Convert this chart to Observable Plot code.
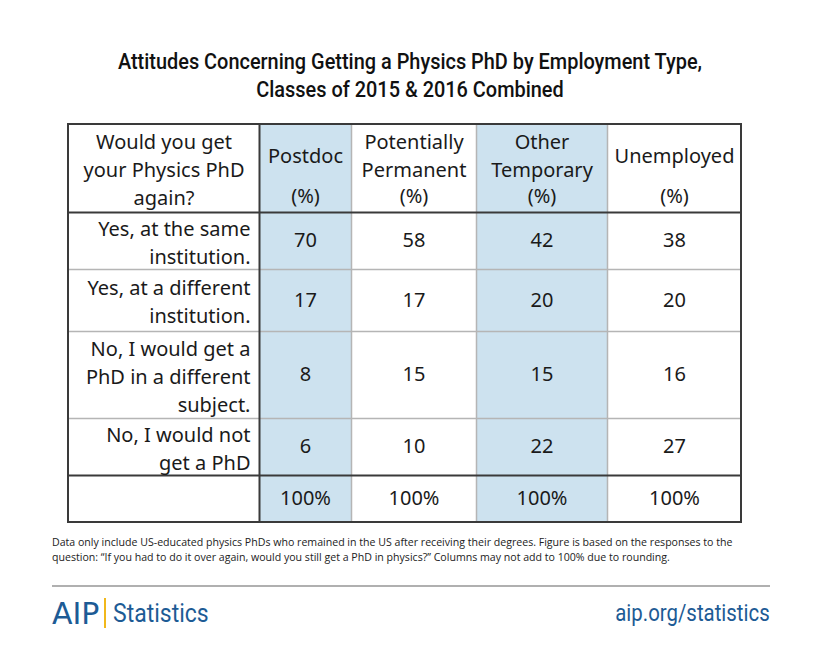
<!DOCTYPE html>
<html><head><meta charset="utf-8">
<script src="https://cdn.jsdelivr.net/npm/d3@7"></script>
<script src="https://cdn.jsdelivr.net/npm/@observablehq/plot@0.6"></script>
<style>
body{margin:0;background:#fff;}
#wrap{position:relative;width:820px;height:664px;overflow:hidden;font-family:"Noto Sans",sans-serif;background:#fff;}
#title{position:absolute;top:47px;left:0;width:820px;text-align:center;font-family:"Roboto",sans-serif;font-weight:500;font-size:22.5px;line-height:28px;color:#111;transform:scaleX(0.885);transform-origin:410px 0;}
#chart{position:absolute;top:110px;left:0;}
#note{position:absolute;left:52px;top:535px;width:690px;font-family:"Open Sans",sans-serif;font-size:10.6px;line-height:15px;color:#222;}
#sep{position:absolute;left:52px;top:585px;width:718px;height:2px;background:#b0b0b0;}
#logo{position:absolute;left:52px;top:598px;height:30px;display:flex;align-items:center;color:#1d5b95;}
#logo .aip{font-family:"DejaVu Sans",sans-serif;font-size:30px;letter-spacing:0px;}
#logo .bar{width:2px;height:30px;background:#f1b81b;margin:0 7px 0 5px;}
#logo .stat{font-family:"Roboto",sans-serif;font-size:25px;display:inline-block;transform:scaleX(0.92);transform-origin:0 50%;}
#url{position:absolute;right:50px;top:598px;height:30px;line-height:30px;font-family:"Roboto",sans-serif;font-size:24px;color:#1d5b95;transform:scaleX(0.85);transform-origin:100% 50%;}
</style></head>
<body>
<div id="wrap">
  <div id="title">Attitudes Concerning Getting a Physics PhD by Employment Type,<br>Classes of 2015 &amp; 2016 Combined</div>
  <div id="chart"></div>
  <div id="note">Data only include US-educated physics PhDs who remained in the US after receiving their degrees. Figure is based on the responses to the question: “If you had to do it over again, would you still get a PhD in physics?” Columns may not add to 100% due to rounding.</div>
  <div id="sep"></div>
  <div id="logo"><span class="aip">AIP</span><span class="bar"></span><span class="stat">Statistics</span></div>
  <div id="url">aip.org/statistics</div>
</div>
<script>
// ---- data ----
const questionHeader = "Would you get\nyour Physics PhD\nagain?";
const columns = ["Postdoc", "Potentially\nPermanent", "Other\nTemporary", "Unemployed"];
const unitLabel = "(%)";
const responses = [
  "Yes, at the same\ninstitution.",
  "Yes, at a different\ninstitution.",
  "No, I would get a\nPhD in a different\nsubject.",
  "No, I would not\nget a PhD"
];
const postdoc = [70, 17, 8, 6];
const potentiallyPermanent = [58, 17, 15, 10];
const otherTemporary = [42, 20, 15, 22];
const unemployed = [38, 20, 16, 27];
const totals = ["100%", "100%", "100%", "100%"];
const highlighted = ["Postdoc", "Other\nTemporary"];

// ---- layout (page pixel grid of the table) ----
const colEdges = [68, 259, 351, 476, 607, 741];
const rowEdges = [124, 212, 269, 331, 418, 475, 522];
const lineStep = 28;

const series = [postdoc, potentiallyPermanent, otherTemporary, unemployed];
const cells = [];
series.forEach((vals, c) => vals.forEach((v, r) => cells.push({c: c + 1, r: r + 1, text: String(v)})));
totals.forEach((t, c) => cells.push({c: c + 1, r: 5, text: t}));
const cx = d => (colEdges[d.c] + colEdges[d.c + 1]) / 2;
const cy = d => (rowEdges[d.r] + rowEdges[d.r + 1]) / 2;

const hi = columns.map((name, i) => ({name, c: i + 1})).filter(d => highlighted.includes(d.name));
const headers = columns.map((name, i) => ({name, c: i + 1}));
const rows = responses.map((label, i) => ({label, r: i + 1}));

const tTop = rowEdges[0], tBottom = rowEdges[rowEdges.length - 1];
const tLeft = colEdges[0], tRight = colEdges[colEdges.length - 1];
const lightV = [2, 3, 4];
const lightH = [2, 3, 4];
const darkH = [1, 5];
const font = "Noto Sans";
const fs = 20;
const ink = "#1a1a1a";

const chart = Plot.plot({
  width: 820, height: 420, margin: 0,
  x: {type: "linear", domain: [0, 820], range: [0, 820], axis: null},
  y: {type: "linear", domain: [110, 530], range: [0, 420], axis: null},
  style: {fontFamily: font, background: "transparent", color: ink},
  marks: [
    Plot.rect(hi, {x1: d => colEdges[d.c], x2: d => colEdges[d.c + 1], y1: () => tTop, y2: () => tBottom, fill: "#cde2ef"}),
    Plot.ruleX(lightV, {x: i => colEdges[i], y1: () => tTop, y2: () => tBottom, stroke: "#b5b5b5", strokeWidth: 1.5}),
    Plot.ruleY(lightH, {y: i => rowEdges[i], x1: () => tLeft, x2: () => tRight, stroke: "#b5b5b5", strokeWidth: 1.5}),
    Plot.ruleY(darkH, {y: i => rowEdges[i], x1: () => tLeft, x2: () => tRight, stroke: "#3a3a3a", strokeWidth: 2}),
    Plot.ruleX([1], {x: i => colEdges[i], y1: () => tTop, y2: () => tBottom, stroke: "#3a3a3a", strokeWidth: 2}),
    Plot.rect([0], {x1: () => tLeft, x2: () => tRight, y1: () => tTop, y2: () => tBottom, fill: "none", stroke: "#3a3a3a", strokeWidth: 2}),
    // header
    Plot.text([questionHeader], {x: () => (colEdges[0] + colEdges[1]) / 2, y: () => rowEdges[0] + 16 + lineStep, text: d => d, fontSize: fs, lineHeight: lineStep / fs, fill: ink}),
    Plot.text(headers, {x: cx, y: () => rowEdges[0] + 16 + lineStep / 2, text: "name", fontSize: fs, lineHeight: lineStep / fs, fill: ink}),
    Plot.text(headers, {x: cx, y: () => rowEdges[0] + 16 + 2 * lineStep, text: () => unitLabel, fontSize: fs, fill: ink}),
    // row labels
    Plot.text(rows, {x: () => colEdges[1] - 9, y: cy, text: "label", textAnchor: "end", fontSize: fs, lineHeight: lineStep / fs, fill: ink}),
    // values
    Plot.text(cells, {x: cx, y: cy, text: "text", fontSize: fs, fill: ink})
  ]
});
document.getElementById("chart").appendChild(chart);
</script>
</body></html>
